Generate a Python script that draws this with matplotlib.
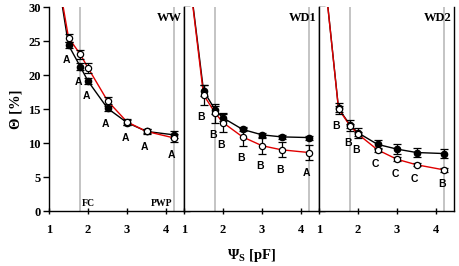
import matplotlib
matplotlib.use("Agg")
import matplotlib.pyplot as plt
import numpy as np

plt.rcParams["mathtext.fontset"] = "custom"
plt.rcParams["mathtext.rm"] = "Liberation Serif:bold"
plt.rcParams["mathtext.bf"] = "Liberation Serif:bold"
plt.rcParams["mathtext.it"] = "Liberation Serif:bold"

# ---- data ----
psi = [1.0, 1.5, 1.8, 2.0, 2.5, 3.0, 3.5, 4.2]
panels = ["WW", "WD1", "WD2"]

ww_filled = [42.5, 24.4, 21.25, 19.1, 15.1, 13.0, 11.7, 11.2]
ww_filled_err = [0, 0.4, 0.5, 0.4, 0.4, 0.4, 0.3, 0.5]
ww_open = [42.0, 25.5, 23.05, 21.05, 16.2, 13.1, 11.7, 10.75]
ww_open_err = [0, 0.6, 0.7, 0.7, 0.5, 0.5, 0.4, 0.6]

wd1_filled = [41.0, 17.7, 14.85, 13.7, 12.0, 11.2, 10.9, 10.8]
wd1_filled_err = [0, 0.8, 0.6, 0.5, 0.3, 0.3, 0.3, 0.3]
wd1_open = [41.0, 17.1, 14.4, 13.0, 10.9, 9.6, 9.0, 8.6]
wd1_open_err = [0, 1.5, 1.4, 1.4, 1.3, 1.2, 1.1, 1.15]

wd2_filled = [42.5, 15.1, 12.6, 11.5, 9.8, 9.1, 8.6, 8.45]
wd2_filled_err = [0, 0.8, 0.8, 0.7, 0.7, 0.7, 0.7, 0.7]
wd2_open = [42.5, 15.0, 12.5, 11.3, 9.0, 7.6, 6.8, 6.05]
wd2_open_err = [0, 0.4, 0.3, 0.3, 0.3, 0.3, 0.2, 0.3]

ww_letters = ["A", "A", "A", "A", "A", "A", "A"]
wd1_letters = ["B", "B", "B", "B", "B", "B", "A"]
wd2_letters = ["B", "B", "B", "C", "C", "C", "B"]

fc = 1.8
pwp = 4.2
x_ticks = [1, 2, 3, 4]
y_ticks = [0, 5, 10, 15, 20, 25, 30]

series = [
    (ww_filled, ww_filled_err, ww_open, ww_open_err, ww_letters),
    (wd1_filled, wd1_filled_err, wd1_open, wd1_open_err, wd1_letters),
    (wd2_filled, wd2_filled_err, wd2_open, wd2_open_err, wd2_letters),
]

serif = ["Liberation Serif", "DejaVu Serif"]
sans = ["Liberation Sans", "DejaVu Sans"]

W, H = 459, 266
fig = plt.figure(figsize=(W / 100, H / 100), dpi=100)

left_px = [49, 184, 319]
pw = 135
top_px, bot_px = 7, 211

for i, (name, (f, fe, o, oe, letters)) in enumerate(zip(panels, series)):
    ax = fig.add_axes([left_px[i] / W, 1 - bot_px / H, pw / W, (bot_px - top_px) / H])
    ax.set_xlim(1, 4.46)
    ax.set_ylim(0, 30)
    ax.axvline(fc, color="#c4c4c4", lw=1.4, zorder=0)
    ax.axvline(pwp, color="#c4c4c4", lw=1.4, zorder=0)

    x = np.array(psi)
    f = np.array(f); fe = np.array(fe); o = np.array(o); oe = np.array(oe)
    ax.plot(x, f, color="black", lw=1.0, zorder=2)
    ax.plot(x, o, color="#e00000", lw=1.0, zorder=3)
    ax.errorbar(x[1:], f[1:], yerr=fe[1:], fmt="o", color="black", ms=4.5,
                mfc="black", mec="black", ecolor="black", elinewidth=0.9,
                capsize=3, capthick=0.9, zorder=4)
    ax.errorbar(x[1:], o[1:], yerr=oe[1:], fmt="o", color="black", ms=4.5,
                mfc="white", mec="black", mew=0.9, ecolor="black",
                elinewidth=0.9, capsize=3, capthick=0.9, zorder=5)

    lows = np.minimum(f - fe, o - oe)
    for xi, lo, lab in zip(x[1:], lows[1:], letters):
        ax.text(xi - 0.05, lo - 1.85, lab, ha="center", va="center",
                fontsize=7.5, fontweight="bold", family=sans, zorder=6)

    ax.text(0.985, 0.945, name, transform=ax.transAxes, ha="right", va="center",
            fontsize=9, fontweight="bold", family=serif)
    if i == 0:
        ax.text(fc + 0.05, 0.4, "FC", ha="left", va="bottom", fontsize=7,
                fontweight="bold", family=serif)
        ax.text(pwp - 0.04, 0.4, "PWP", ha="right", va="bottom", fontsize=7,
                fontweight="bold", family=serif)

    ax.spines["top"].set_visible(False)
    for s in ["left", "right", "bottom"]:
        ax.spines[s].set_linewidth(1.0)
    ax.set_xticks(x_ticks)
    ax.set_xticklabels([str(t) for t in x_ticks], fontsize=9, fontweight="bold",
                       family=serif)
    ax.tick_params(axis="x", direction="inout", length=5, width=1.0, pad=7)
    ax.set_yticks(y_ticks)
    if i == 0:
        ax.set_yticklabels([str(t) for t in y_ticks], fontsize=9, fontweight="bold",
                           family=serif)
        ax.tick_params(axis="y", direction="out", length=4, width=1.0,
                       left=True, right=True, pad=2)
        ax.set_ylabel("Θ [%]", fontsize=10.5, fontweight="bold", family=serif,
                      labelpad=4)
    elif i == 1:
        ax.tick_params(axis="y", direction="out", length=4, width=1.0,
                       left=False, right=True, labelleft=False)
        ax.set_xlabel(r"$\Psi_{S}$ [pF]", fontsize=10.5, fontweight="bold",
                      family=serif, labelpad=8)
    else:
        ax.tick_params(axis="y", left=False, right=False, labelleft=False)

fig.savefig("out.png", dpi=100)
